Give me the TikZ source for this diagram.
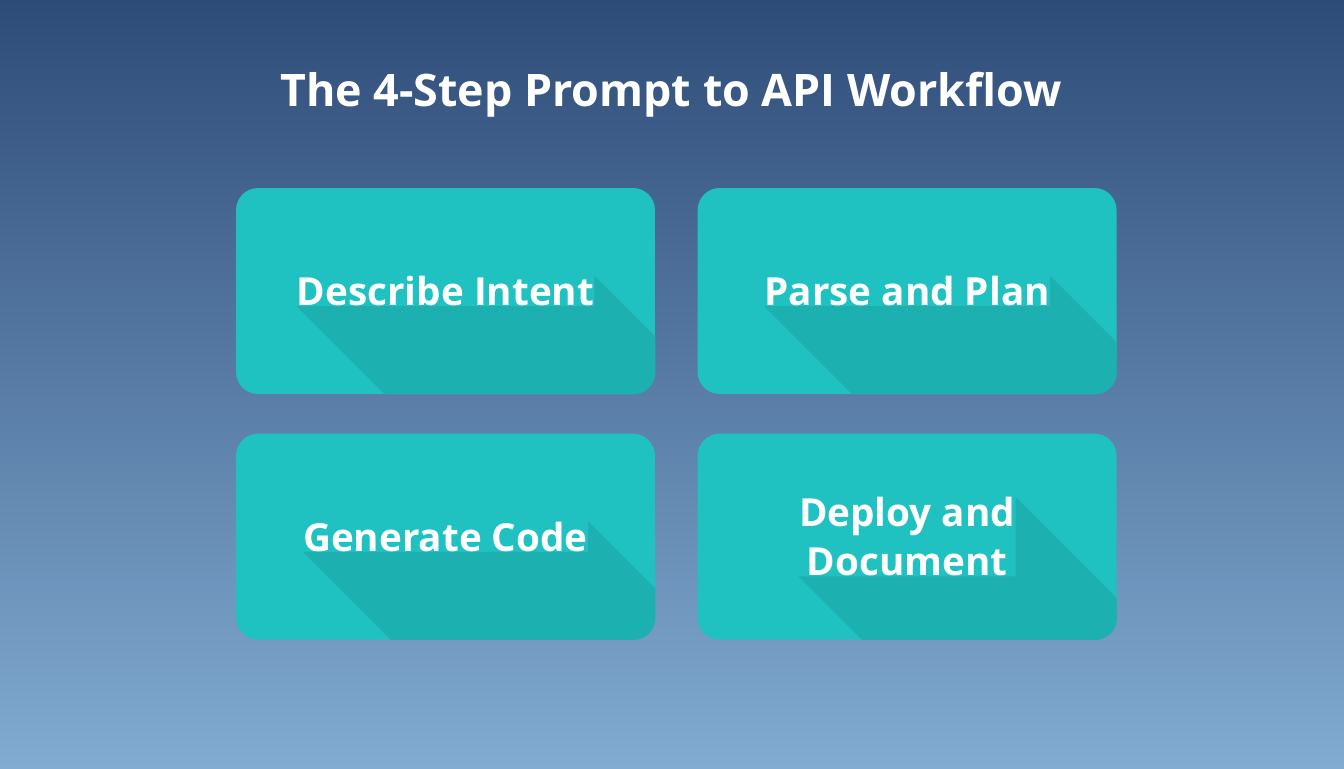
\documentclass[tikz,border=0pt]{standalone}
\usepackage{fontspec}
\setmainfont{Open Sans}
\usetikzlibrary{positioning,calc}
\definecolor{bgtop}{RGB}{46,76,120}
\definecolor{bgbot}{RGB}{130,172,210}
\definecolor{cardc}{RGB}{31,194,192}
\definecolor{cshade}{RGB}{28,176,177}
\pgfdeclarelayer{back}
\pgfdeclarelayer{front}
\pgfsetlayers{back,main,front}
\begin{document}
\begin{tikzpicture}[x=0.02cm,y=-0.02cm, node distance=0.78cm and 0.84cm,
  card/.style={rounded corners=0.44cm,fill=cardc,minimum width=8.38cm,minimum height=4.12cm,inner sep=0pt},
  lbl/.style={text=white,inner sep=0pt,align=center,font=\fontsize{22}{28}\selectfont\bfseries},
  ttl/.style={text=white,font=\fontsize{25.5}{30}\selectfont\bfseries},
  lshade/.style={fill=cshade},
  soft/.style={fill=black,fill opacity=0.05,rounded corners=0.5cm}]
\useasboundingbox (0,0) rectangle (1344,768);
\shade[top color=bgtop,bottom color=bgbot] (0,0) rectangle (1344,768);
\node[ttl] (title) at (671,95) {The 4-Step Prompt to API Workflow};
\node[card] (c1) at (445.5,291) {};
\node[card,right=of c1] (c2) {};
\node[card,below=of c1] (c3) {};
\node[card,below=of c2] (c4) {};
\begin{pgfonlayer}{front}
\node[lbl] (t1) at (c1) {Describe Intent};
\node[lbl] (t2) at (c2) {Parse and Plan};
\node[lbl] (t3) at (c3) {Generate Code};
\node[lbl] (t4) at (c4) {Deploy and\\Document};
\end{pgfonlayer}
\foreach \i in {1,...,4}{
  % soft drop shadow
  \begin{pgfonlayer}{back}
  \foreach \k in {1,...,8}
    \fill[soft] ($(c\i.south west)+(-\k*2,\k*2+6)$) rectangle ($(c\i.north east)+(\k*2,-\k*2+6)$);
  \end{pgfonlayer}
  % long shadow behind the label
  \begin{scope}
  \clip[rounded corners=0.44cm] (c\i.south west) rectangle (c\i.north east);
  \fill[lshade] (t\i.south west) -- (t\i.south east) -- (t\i.north east) -- ++(300,300)
    -- ($(t\i.south west)+(300,300)$) -- cycle;
  \end{scope}
}
\end{tikzpicture}
\end{document}
